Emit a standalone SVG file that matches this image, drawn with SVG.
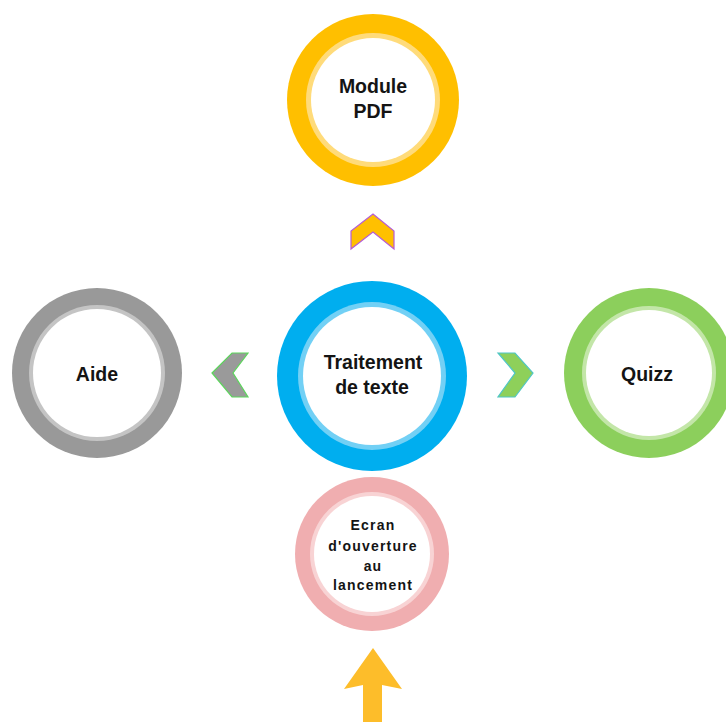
<svg xmlns="http://www.w3.org/2000/svg" width="726" height="722" viewBox="0 0 726 722">
<style>
.lbl{font-family:"Liberation Sans",Arial,sans-serif;font-weight:bold;fill:#141414;text-anchor:middle}
.big{font-size:19.5px}
.small{font-size:14px;letter-spacing:1.2px}
.white{fill:#ffffff}
</style>
<rect width="726" height="722" fill="#ffffff"/>
<g id="connectors">
<polygon points="351,249 351,231 373,214 394,231 394,249 373,232" fill="#FFC000" stroke="#B55CD6" stroke-width="1.2"/>
<polygon points="212,373 232,353 248,353 233,373 248,397 232,397" fill="#9A9A9A" stroke="#5CD65C" stroke-width="1.2"/>
<polygon points="498,353 515,353 533,373 515,397 498,397 515,373" fill="#8ED05A" stroke="#4FC6C6" stroke-width="1.2"/>
<polygon points="373,648 402,689 382,685 382,722 363,722 363,685 344,689" fill="#FDBD2A"/>
</g>
<g id="module-pdf">
<circle cx="373" cy="100" r="86" fill="#FFBF00"/>
<circle cx="373" cy="100" r="67" fill="#FFDB7A"/>
<circle cx="373" cy="100" r="62" class="white"/>
<text class="lbl big" x="373" y="93">Module</text>
<text class="lbl big" x="373" y="118">PDF</text>
</g>
<g id="traitement">
<circle cx="372" cy="376" r="95" fill="#00AEEF"/>
<circle cx="372" cy="376" r="74" fill="#72D0F5"/>
<circle cx="372" cy="376" r="69" class="white"/>
<text class="lbl big" x="373" y="369">Traitement</text>
<text class="lbl big" x="372" y="394">de texte</text>
</g>
<g id="aide">
<circle cx="97" cy="373" r="85" fill="#999999"/>
<circle cx="97" cy="373" r="68" fill="#C4C4C4"/>
<circle cx="97" cy="373" r="64" class="white"/>
<text class="lbl big" x="97" y="381">Aide</text>
</g>
<g id="quizz">
<circle cx="649" cy="373" r="85" fill="#8CCF5C"/>
<circle cx="649" cy="373" r="67" fill="#C3E6A8"/>
<circle cx="649" cy="373" r="63" class="white"/>
<text class="lbl big" x="647" y="381">Quizz</text>
</g>
<g id="ecran">
<circle cx="372" cy="554" r="77" fill="#F0AEB0"/>
<circle cx="372" cy="554" r="62" fill="#F8D3D4"/>
<circle cx="372" cy="554" r="58" class="white"/>
<text class="lbl small" x="373" y="530">Ecran</text>
<text class="lbl small" x="373" y="551">d'ouverture</text>
<text class="lbl small" x="373" y="571">au</text>
<text class="lbl small" x="373" y="590">lancement</text>
</g>
</svg>
